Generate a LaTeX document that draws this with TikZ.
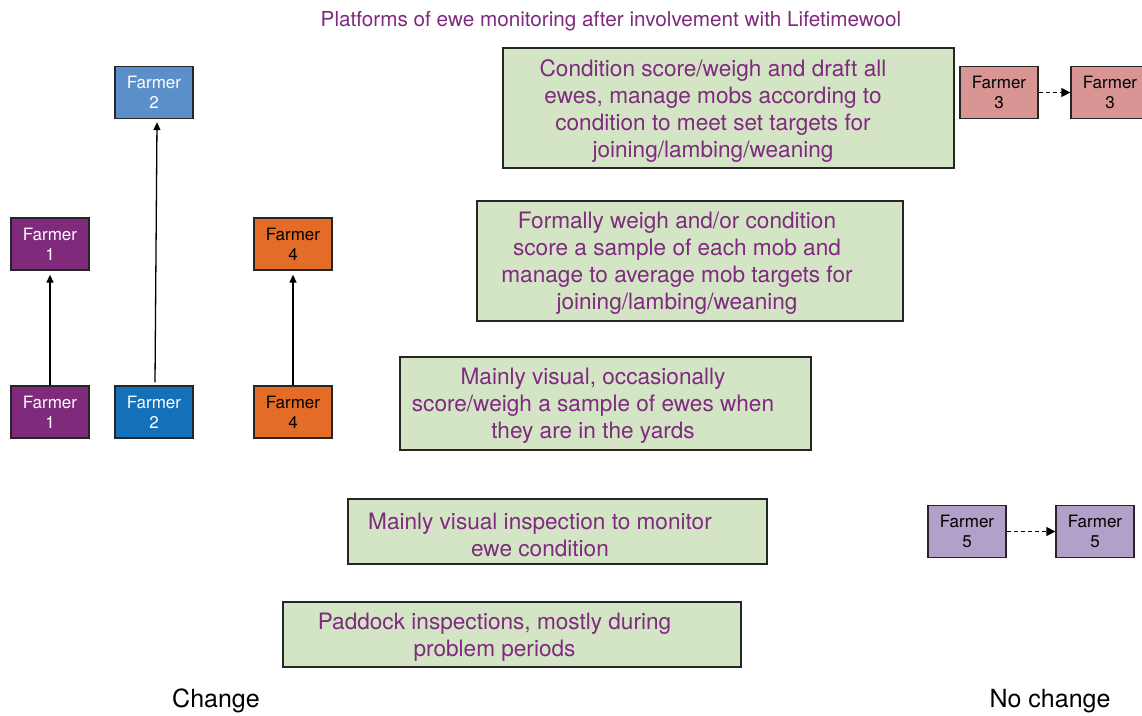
\documentclass[tikz,border=0pt]{standalone}
\usepackage{fontspec}
\setmainfont{TeX Gyre Heros}
\usetikzlibrary{arrows.meta}
\definecolor{txtpurple}{HTML}{7F2A7F}
\definecolor{boxgreen}{HTML}{D3E5C4}
\definecolor{fone}{HTML}{7F2A7A}
\definecolor{ftwotop}{HTML}{5B8FC9}
\definecolor{ftwo}{HTML}{1470B8}
\definecolor{ffour}{HTML}{E36C26}
\definecolor{fthree}{HTML}{D99594}
\definecolor{ffive}{HTML}{B1A0C7}
\tikzset{
  farmer/.style={draw=black!85, line width=1.3pt, minimum width=78pt, minimum height=52pt,
    inner sep=0pt, align=center, font=\fontsize{17}{20}\selectfont},
  platform/.style={draw=black!85, line width=1.3pt, fill=boxgreen, inner sep=0pt},
  ptext/.style={align=center, text=txtpurple, font=\fontsize{22.6}{27}\selectfont, inner sep=0pt},
  uparrow/.style={line width=1.3pt, -{Triangle[length=8pt,width=7pt]}},
  dasharrow/.style={line width=1.3pt, dashed, dash pattern=on 4pt off 3pt, -{Triangle[length=9pt,width=9pt]}},
}
\begin{document}
\begin{tikzpicture}[x=1pt,y=-1pt]
\useasboundingbox (0,0) rectangle (1142,715);
\clip (0,0) rectangle (1142,715);
% title
\node[text=txtpurple, font=\fontsize{20.7}{24}\selectfont, inner sep=0pt] (title) at (611,21) {Platforms of ewe monitoring after involvement with Lifetimewool};
% platform boxes
\node[platform, minimum width=451pt, minimum height=120pt] (p1) at (728.5,108) {};
\node[ptext] (t1) at (713,111) {Condition score/weigh and draft all\\ewes, manage mobs according to\\condition to meet set targets for\\joining/lambing/weaning};
\node[platform, minimum width=426pt, minimum height=120pt] (p2) at (690,261) {};
\node[ptext] (t2) at (677,263.5) {Formally weigh and/or condition\\score a sample of each mob and\\manage to average mob targets for\\joining/lambing/weaning};
\node[platform, minimum width=411pt, minimum height=93pt] (p3) at (605.5,403.5) {};
\node[ptext] (t3) at (593,406) {Mainly visual, occasionally\\score/weigh a sample of ewes when\\they are in the yards};
\node[platform, minimum width=419pt, minimum height=65pt] (p4) at (557.5,531.5) {};
\node[ptext] (t4) at (540,534.5) {Mainly visual inspection to monitor\\ewe condition};
\node[platform, minimum width=458pt, minimum height=65pt] (p5) at (512,634.5) {};
\node[ptext] (t5) at (494.5,637.5) {Paddock inspections, mostly during\\problem periods};
% farmers
\node[farmer, fill=ftwotop, text=white] (f2t) at (154,92.5) {Farmer\\2};
\node[farmer, fill=fone, text=white] (f1t) at (50,244) {Farmer\\1};
\node[farmer, fill=ffour, text=black] (f4t) at (293,244) {Farmer\\4};
\node[farmer, fill=fone, text=white] (f1b) at (50,412) {Farmer\\1};
\node[farmer, fill=ftwo, text=white] (f2b) at (154,412) {Farmer\\2};
\node[farmer, fill=ffour, text=black] (f4b) at (293,412) {Farmer\\4};
\node[farmer, fill=fthree] (f3a) at (999,92.5) {Farmer\\3};
\node[farmer, fill=fthree] (f3b) at (1110,92.5) {Farmer\\3};
\node[farmer, fill=ffive] (f5a) at (967,531.5) {Farmer\\5};
\node[farmer, fill=ffive] (f5b) at (1095,531.5) {Farmer\\5};
% connectors
\draw[uparrow] (f1b.north) -- ([yshift=-4pt]f1t.south);
\draw[uparrow] ([xshift=1pt,yshift=3pt]f2b.north) -- ([xshift=3pt,yshift=-3pt]f2t.south);
\draw[uparrow] (f4b.north) -- ([yshift=-4pt]f4t.south);
\draw[dasharrow] (f3a.east) -- (f3b.west);
\draw[dasharrow] (f5a.east) -- (f5b.west);
% bottom labels
\node[font=\fontsize{25}{30}\selectfont, inner sep=0pt] (chg) at (216,701) {Change};
\node[font=\fontsize{25}{30}\selectfont, inner sep=0pt] (nochg) at (1050,701) {No change};
\end{tikzpicture}
\end{document}
